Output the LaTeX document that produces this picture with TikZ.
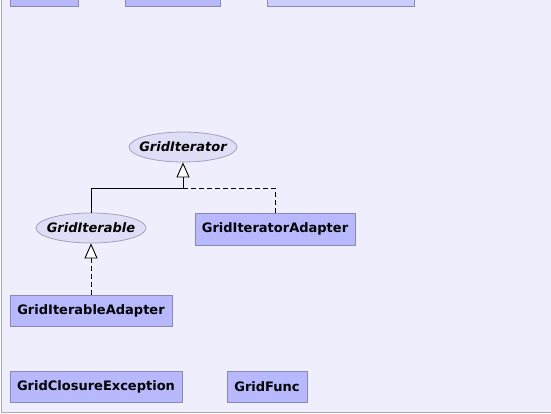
\documentclass[tikz,border=0pt]{standalone}
\usepackage{fontspec}
\setmainfont{DejaVu Sans}
\usetikzlibrary{arrows.meta}
\definecolor{panel}{HTML}{EEEEFC}
\definecolor{panelline}{HTML}{A8A8B8}
\definecolor{boxfill}{HTML}{B8B8FF}
\definecolor{boxfilllight}{HTML}{CCCCFF}
\definecolor{boxline}{HTML}{8888BB}
\definecolor{ellfill}{HTML}{DEDEF6}
\definecolor{ellline}{HTML}{A0A0C4}
\tikzset{
  cls/.style={draw=boxline, fill=boxfill, line width=1pt, font=\fontsize{13}{15}\selectfont\bfseries, inner sep=0pt},
  iface/.style={draw=ellline, fill=ellfill, ellipse, line width=0.8pt, font=\fontsize{13}{15}\selectfont\bfseries\itshape, inner xsep=-10pt, inner ysep=-2pt},
  rel/.style={line width=0.9pt, draw=black},
  inh/.style={rel, -{Triangle[length=15pt,width=13pt,fill=white,line width=0.9pt]}},
  impl/.style={rel, dash pattern=on 5pt off 3pt}
}
\usetikzlibrary{shapes.geometric}
\begin{document}
\begin{tikzpicture}[x=1pt,y=-1pt]
\useasboundingbox (0,0) rectangle (551,413);
\begin{scope}
\clip (0,0) rectangle (551,413);
\draw[panelline, fill=panel, line width=1pt] (1,-10) rectangle (600,412);
\draw[boxline, fill=boxfill, line width=1pt] (10,-20) rectangle (78,6);
\draw[boxline, fill=boxfill, line width=1pt] (125,-20) rectangle (220,6);
\draw[boxline, fill=boxfilllight, line width=1pt] (267,-20) rectangle (414,6);
\end{scope}

\node[iface, minimum width=108pt, minimum height=30pt] (iter) at (183,147) {GridIterator};
\node[iface, minimum width=110pt, minimum height=30pt] (iterable) at (91,228) {GridIterable};
\node[cls, minimum width=160pt, minimum height=32pt] (iteradapter) at (275,229) {GridIteratorAdapter};
\node[cls, minimum width=162pt, minimum height=31pt] (iterableadapter) at (91,310.5) {GridIterableAdapter};
\node[cls, minimum width=172pt, minimum height=31pt] (closexc) at (96,386.5) {GridClosureException};
\node[cls, minimum width=80pt, minimum height=31pt] (func) at (267,386.5) {GridFunc};

\coordinate (j) at (183,188);
\draw[rel] (iterable.north) |- (j);
\draw[impl] (iteradapter.north) |- (j);
\draw[inh] (j) -- (iter.south);
\draw[impl] (iterableadapter.north) -- (91,261);
\draw[inh] (91,261) -- (iterable.south);
\end{tikzpicture}
\end{document}
